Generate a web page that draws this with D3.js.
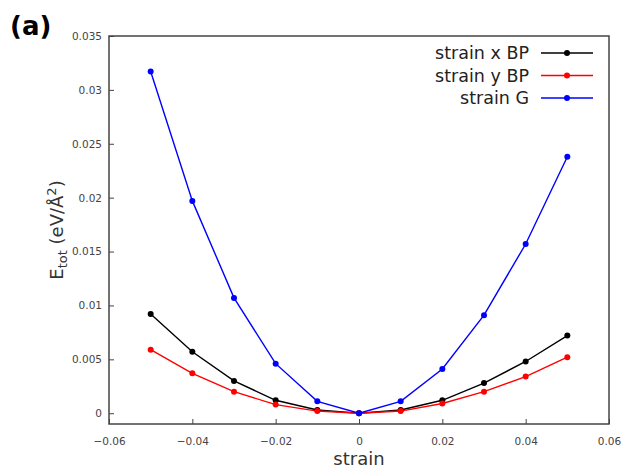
<!DOCTYPE html>
<html>
<head>
    <meta charset="UTF-8">
    <title>Strain energy</title>
    <style>
        body { margin: 0; background: white; }
        text { font-family: "DejaVu Sans", sans-serif; }
    </style>
</head>
<body>
    <svg></svg>
    <script src="https://d3js.org/d3.v7.min.js"></script>
    <script>
        let strain = [-0.05, -0.04, -0.03, -0.02, -0.01, 0, 0.01, 0.02, 0.03, 0.04, 0.05];
        let strainXBP = [0.0092, 0.0057, 0.0030, 0.0012, 0.0003, 0, 0.0003, 0.0012, 0.0028, 0.0048, 0.0072];
        let strainYBP = [0.0059, 0.0037, 0.0020, 0.0008, 0.0002, 0, 0.0002, 0.0009, 0.0020, 0.0034, 0.0052];
        let strainG = [0.0317, 0.0197, 0.0107, 0.0046, 0.0011, 0, 0.0011, 0.0041, 0.0091, 0.0157, 0.0238];
        let seriesNames = ["strain x BP", "strain y BP", "strain G"];
        let seriesColors = ["black", "red", "blue"];
        let xTicks = [-0.06, -0.04, -0.02, 0, 0.02, 0.04, 0.06];
        let yTicks = [0, 0.005, 0.01, 0.015, 0.02, 0.025, 0.03, 0.035];

        let width = 622, height = 468;
        let margin = { left: 109, right: 13, top: 36, bottom: 44 };

        let svg = d3.select("svg")
            .attr("width", width)
            .attr("height", height);

        let x = d3.scaleLinear().domain([-0.06, 0.06]).range([margin.left, width - margin.right]);
        let y = d3.scaleLinear().domain([-0.001, 0.035]).range([height - margin.bottom, margin.top]);

        // axes (ticks point inward, like gnuplot)
        let xAxis = svg.append("g")
            .attr("transform", "translate(0," + (height - margin.bottom) + ")")
            .call(d3.axisBottom(x).tickValues(xTicks).tickSizeInner(-5).tickSizeOuter(0).tickPadding(14)
                .tickFormat(d => d === 0 ? "0" : d3.format("")(+d.toFixed(2))));
        let yAxis = svg.append("g")
            .attr("transform", "translate(" + margin.left + ",0)")
            .call(d3.axisLeft(y).tickValues(yTicks).tickSizeInner(-5).tickSizeOuter(0).tickPadding(7)
                .tickFormat(d => d === 0 ? "0" : d3.format("")(+d.toFixed(3))));

        [xAxis, yAxis].forEach(a => {
            a.select(".domain").remove();
            a.selectAll("line").attr("stroke", "#444");
            a.selectAll("text").attr("fill", "#444").style("font-size", "10.5px");
        });

        // frame
        svg.append("rect")
            .attr("x", margin.left).attr("y", margin.top)
            .attr("width", width - margin.left - margin.right)
            .attr("height", height - margin.top - margin.bottom)
            .attr("fill", "none").attr("stroke", "#444").attr("stroke-width", 1.5);

        let allSeries = [strainXBP, strainYBP, strainG];
        let line = d3.line().x((d, i) => x(strain[i])).y(d => y(d));

        allSeries.forEach((vals, k) => {
            svg.append("path")
                .datum(vals)
                .attr("d", line)
                .attr("fill", "none")
                .attr("stroke", seriesColors[k])
                .attr("stroke-width", 1.4);
            svg.append("g").selectAll("circle")
                .data(vals)
                .enter()
                .append("circle")
                .attr("cx", (d, i) => x(strain[i]))
                .attr("cy", d => y(d))
                .attr("r", 3)
                .attr("fill", seriesColors[k]);
        });

        // legend
        let legend = svg.append("g");
        seriesNames.forEach((name, k) => {
            let ly = 53 + k * 22.5;
            legend.append("text")
                .attr("x", 529).attr("y", ly)
                .attr("dy", "0.35em")
                .attr("text-anchor", "end")
                .attr("fill", "#222")
                .style("font-size", "17.5px")
                .text(name);
            legend.append("line")
                .attr("x1", 541).attr("x2", 593)
                .attr("y1", ly).attr("y2", ly)
                .attr("stroke", seriesColors[k]).attr("stroke-width", 1.4);
            legend.append("circle")
                .attr("cx", 567).attr("cy", ly).attr("r", 3)
                .attr("fill", seriesColors[k]);
        });

        // axis titles
        svg.append("text")
            .attr("x", x(0)).attr("y", 465)
            .attr("text-anchor", "middle")
            .attr("fill", "#333")
            .style("font-size", "18px")
            .text("strain");

        let yl = svg.append("text")
            .attr("transform", "translate(63," + 230 + ") rotate(-90)")
            .attr("text-anchor", "middle")
            .attr("fill", "#333")
            .style("font-size", "18px");
        yl.append("tspan").text("E");
        yl.append("tspan").attr("dy", 4).style("font-size", "13px").text("tot");
        yl.append("tspan").attr("dy", -4).text(" (eV/Å");
        yl.append("tspan").attr("dy", -7).style("font-size", "13px").text("2");
        yl.append("tspan").attr("dy", 7).text(")");

        svg.append("text")
            .attr("x", 10).attr("y", 35)
            .attr("font-family", "Open Sans")
            .attr("font-weight", "bold")
            .attr("fill", "black")
            .style("font-size", "26px")
            .text("(a)");
    </script>
</body>
</html>
